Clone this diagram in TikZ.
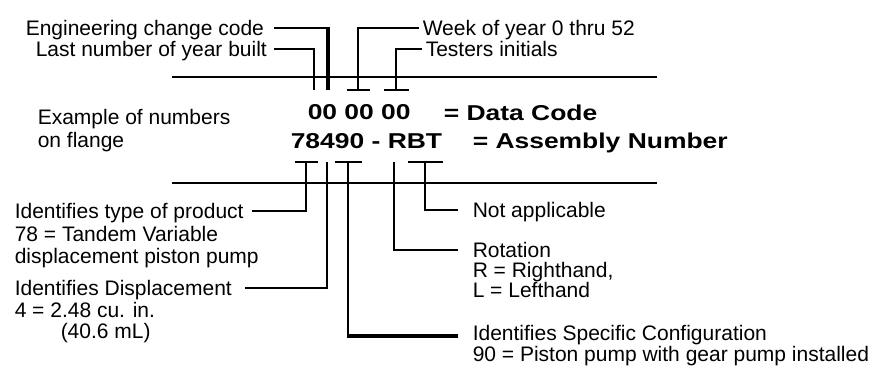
\documentclass[tikz,border=0pt]{standalone}
\usepackage{fontspec}
\setmainfont{Liberation Sans}
\newfontfamily\widebold{Liberation Sans}[FakeStretch=1.23]
\begin{document}
\begin{tikzpicture}[x=1pt,y=-1pt,line width=1.5pt,
  lab/.style={font=\fontsize{21pt}{22pt}\selectfont, inner xsep=3pt, inner ysep=0pt,
              text height=15pt, text depth=0pt, anchor=west},
  big/.style={lab, font=\widebold\bfseries\fontsize{21.5pt}{22pt}\selectfont, text height=15.4pt},
  heavy/.style={line width=3.5pt}]
\useasboundingbox (0,0) rectangle (883,381);

% top labels
\node[lab] (eng)  at (22,28)  {Engineering change code};
\node[lab] (last) at (32,49)  {Last number of year built};
\node[lab] (week) at (419,28) {Week of year 0 thru 52};
\node[lab] (test) at (422,49) {Testers initials};

% middle
\node[lab] (ex1) at (34,117) {Example of numbers};
\node[lab] (ex2) at (34,140) {on flange};
\node[big] (dc)  at (304,112) {00 00 00};
\node[big] (dcl) at (440,113) {= Data Code};
\node[big] (an)  at (287,141) {78490 - RBT};
\node[big] (anl) at (469,141) {= Assembly Number};

% bottom left
\node[lab] (typ)  at (11,211) {Identifies type of product};
\node[lab] (typ2) at (11,234) {78 = Tandem Variable};
\node[lab] (typ3) at (11,256) {displacement piston pump};
\node[lab] (dsp)  at (11,288) {Identifies Displacement};
\node[lab] (dsp2) at (11,310) {4 = 2.48 cu. in.};
\node[lab] (dsp3) at (57,331) {(40.6 mL)};

% bottom right
\node[lab] (na)   at (469,210) {Not applicable};
\node[lab] (rot)  at (469,250) {Rotation};
\node[lab] (rot2) at (469,270) {R = Righthand,};
\node[lab] (rot3) at (469,290) {L = Lefthand};
\node[lab] (cfg)  at (469,333) {Identifies Specific Configuration};
\node[lab] (cfg2) at (469,354) {90 = Piston pump with gear pump installed};

% rules
\coordinate (rt1) at (172,77);  \coordinate (rt2) at (657,77);
\coordinate (rb1) at (172,183); \coordinate (rb2) at (657,183);
\draw (rt1) -- (rt2);
\draw (rb1) -- (rb2);

% top connectors
\coordinate (ebot) at (328,90);
\draw ([xshift=6pt]eng.east) -- (eng.east -| ebot);
\draw[heavy] ([yshift=0.75pt]eng.east -| ebot) -- (ebot);
\coordinate (lbot) at (314,90);
\draw ([xshift=3pt]last.east) -| (lbot);
\coordinate (wbot) at (358,90);
\draw (week.west) -| (wbot);
\draw ([xshift=-11.5pt]wbot) -- ([xshift=11.5pt]wbot);
\coordinate (tbot) at (396,90);
\draw (test.west) -| (tbot);
\draw ([xshift=-12.5pt]tbot) -- ([xshift=12.5pt]tbot);

% bottom connectors
\coordinate (b1) at (306,162);
\draw (b1) |- ([xshift=5pt]typ.east);
\draw ([xshift=-11.5pt]b1) -- ([xshift=11.5pt]b1);
\coordinate (b2) at (327,162);
\draw (b2) |- ([xshift=9pt]dsp.east);
\coordinate (b3) at (348,162);
\coordinate (b3c) at (348,336);
\draw ([xshift=-13.5pt]b3) -- ([xshift=13.5pt]b3);
\draw (b3) -- (b3c);
\draw[heavy] ([xshift=-0.75pt]b3c) -- ([xshift=-11pt]b3c -| cfg.west);
\coordinate (b4) at (394,162);
\draw (b4) |- ([xshift=-11pt]rot.west);
\coordinate (b5) at (425,162);
\draw ([xshift=-17.5pt]b5) -- ([xshift=17.5pt]b5);
\draw (b5) |- ([xshift=-11pt]na.west);
\end{tikzpicture}
\end{document}
